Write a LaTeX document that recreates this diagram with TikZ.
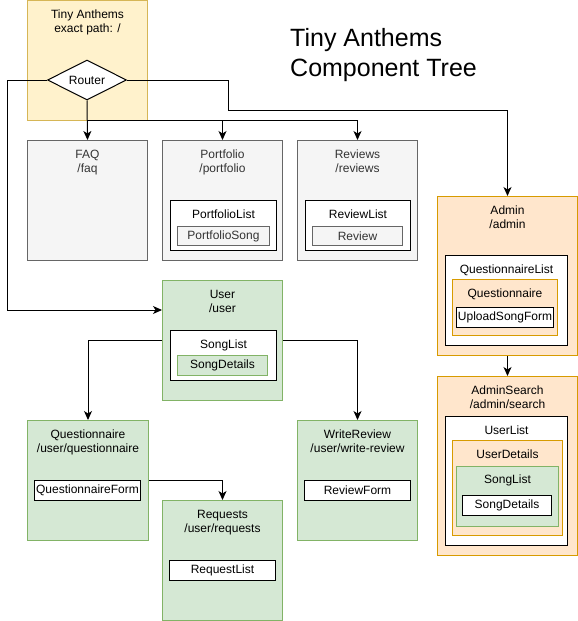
\documentclass[tikz,border=0pt]{standalone}
\usepackage{fontspec}
\setmainfont{Liberation Sans}
\usetikzlibrary{positioning, arrows.meta, shapes.geometric}
\definecolor{RootFill}{HTML}{FFF2CC}
\definecolor{RootLine}{HTML}{D6B656}
\definecolor{PageFill}{HTML}{F5F5F5}
\definecolor{PageLine}{HTML}{666666}
\definecolor{PageText}{HTML}{333333}
\definecolor{AdminFill}{HTML}{FFE6CC}
\definecolor{AdminLine}{HTML}{D79B00}
\definecolor{UserFill}{HTML}{D5E8D4}
\definecolor{UserLine}{HTML}{82B366}

\tikzset{
  box/.style={draw, line width=1pt, inner sep=0pt, anchor=north west,
              font=\fontsize{12}{14}\selectfont},
  rootbox/.style={box, fill=RootFill, draw=RootLine},
  pagebox/.style={box, fill=PageFill, draw=PageLine, text=PageText},
  adminbox/.style={box, fill=AdminFill, draw=AdminLine},
  userbox/.style={box, fill=UserFill, draw=UserLine},
  plainbox/.style={box, fill=white, draw=black},
  caption/.style={inner sep=0pt, align=center, font=\fontsize{12}{14}\selectfont},
  link/.style={line width=1pt, -{Stealth[length=9pt, width=8pt, inset=2.5pt]}}
}

\begin{document}
\begin{tikzpicture}[x=1pt, y=-1pt]
  \useasboundingbox (0,0) rectangle (578,621);

  % Root route with router
  \node[rootbox, minimum width=120pt, minimum height=120pt] (root) at (27,0) {};
  \node[caption, below=10pt of root.north] (roottitle) {Tiny Anthems\\exact path: /};
  \node[draw, diamond, fill=white, line width=1pt, inner sep=0pt, aspect=2,
        minimum width=79pt, minimum height=40pt,
        font=\fontsize{12}{14}\selectfont] (router) at (87,80) {Router};

  % Title
  \node[anchor=north west, inner sep=0pt, align=left,
        font=\fontsize{25}{30}\selectfont] (title) at (290,28.5) {Tiny Anthems\\Component Tree};

  % Public pages
  \node[pagebox, minimum width=120pt, minimum height=120pt] (faq) at (27,140) {};
  \node[caption, text=PageText, below=10pt of faq.north] (faqtitle) {FAQ\\/faq};

  \node[pagebox, minimum width=120pt, minimum height=120pt] (portfolio) at (162,140) {};
  \node[caption, text=PageText, below=10pt of portfolio.north] (portfoliotitle) {Portfolio\\/portfolio};
  \node[plainbox, minimum width=106pt, minimum height=50pt] (portfoliolist) at (170,200) {};
  \node[caption, below=10pt of portfoliolist.north] (portfoliolisttitle) {PortfolioList};
  \node[pagebox, minimum width=92pt, minimum height=19pt] (portfoliosong) at (177,226) {PortfolioSong};

  \node[pagebox, minimum width=120pt, minimum height=120pt] (reviews) at (297,140) {};
  \node[caption, text=PageText, below=10pt of reviews.north] (reviewstitle) {Reviews\\/reviews};
  \node[plainbox, minimum width=105pt, minimum height=50pt] (reviewlist) at (305,200) {};
  \node[caption, below=10pt of reviewlist.north] (reviewlisttitle) {ReviewList};
  \node[pagebox, minimum width=90pt, minimum height=19pt] (review) at (312,226) {Review};

  % Admin pages
  \node[adminbox, minimum width=140pt, minimum height=159pt] (admin) at (437,196) {};
  \node[caption, below=10pt of admin.north] (admintitle) {Admin\\/admin};
  \node[plainbox, minimum width=122pt, minimum height=90pt] (questionnairelist) at (445,255) {};
  \node[caption, below=10pt of questionnairelist.north] (questionnairelisttitle) {QuestionnaireList};
  \node[adminbox, minimum width=105pt, minimum height=56pt] (questionnaireitem) at (452,279) {};
  \node[caption, below=10pt of questionnaireitem.north] (questionnaireitemtitle) {Questionnaire};
  \node[plainbox, minimum width=97pt, minimum height=20pt] (uploadsongform) at (456,307) {UploadSongForm};

  \node[adminbox, minimum width=140pt, minimum height=179pt] (adminsearch) at (437,376) {};
  \node[caption, below=10pt of adminsearch.north] (adminsearchtitle) {AdminSearch\\/admin/search};
  \node[plainbox, minimum width=122pt, minimum height=129pt] (userlist) at (445,416) {};
  \node[caption, below=10pt of userlist.north] (userlisttitle) {UserList};
  \node[adminbox, minimum width=110pt, minimum height=95pt] (userdetails) at (452,440) {};
  \node[caption, below=10pt of userdetails.north] (userdetailstitle) {UserDetails};
  \node[userbox, minimum width=102pt, minimum height=60pt] (adminsonglist) at (456,466) {};
  \node[caption, below=9pt of adminsonglist.north] (adminsonglisttitle) {SongList};
  \node[plainbox, minimum width=89pt, minimum height=20pt] (adminsongdetails) at (462,495) {SongDetails};

  % User pages
  \node[userbox, minimum width=120pt, minimum height=120pt] (user) at (162,280) {};
  \node[caption, below=10pt of user.north] (usertitle) {User\\/user};
  \node[plainbox, minimum width=106pt, minimum height=50pt] (songlist) at (170,330) {};
  \node[caption, below=10pt of songlist.north] (songlisttitle) {SongList};
  \node[userbox, minimum width=90pt, minimum height=20pt] (songdetails) at (177,355) {SongDetails};

  \node[userbox, minimum width=121pt, minimum height=120pt] (questionnaire) at (27,420) {};
  \node[caption, below=10pt of questionnaire.north] (questionnairetitle) {Questionnaire\\/user/questionnaire};
  \node[plainbox, minimum width=106pt, minimum height=20pt] (questionnaireform) at (34,480) {QuestionnaireForm};

  \node[userbox, minimum width=120pt, minimum height=120pt] (requests) at (162,500) {};
  \node[caption, below=10pt of requests.north] (requeststitle) {Requests\\/user/requests};
  \node[plainbox, minimum width=106pt, minimum height=20pt] (requestlist) at (169,560) {RequestList};

  \node[userbox, minimum width=120pt, minimum height=120pt] (writereview) at (297,420) {};
  \node[caption, below=10pt of writereview.north] (writereviewtitle) {WriteReview\\/user/write-review};
  \node[plainbox, minimum width=106pt, minimum height=20pt] (reviewform) at (304,480) {ReviewForm};

  % Router connections
  \coordinate (fork) at (87,120);
  \coordinate (leftbend) at (7,310);
  \coordinate (rightbend) at (228,110);
  \draw[link] (router.south) -- (faq.north);
  \draw[link] (fork) -| (portfolio.north);
  \draw[link] (fork) -| (reviews.north);
  \draw[link] (router.west) -| (leftbend) -- (leftbend -| user.west);
  \draw[link] (router.east) -| (rightbend) -| (admin.north);

  % Nested routes
  \draw[link] (admin.south) -- (adminsearch.north);
  \draw[link] (user.west) -| (questionnaire.north);
  \draw[link] (user.east) -| (writereview.north);
  \draw[link] (questionnaire.east |- questionnaireform.north) -| (requests.north);
\end{tikzpicture}
\end{document}
